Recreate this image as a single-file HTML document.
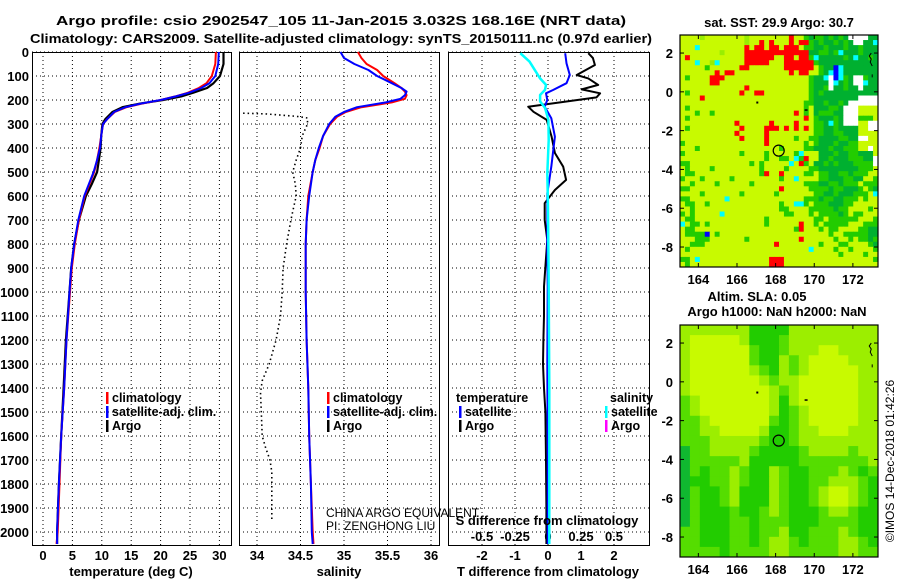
<!DOCTYPE html>
<html><head><meta charset="utf-8"><style>
html,body{margin:0;padding:0;background:#fff;}
svg{display:block;font-family:"Liberation Sans",Arial,sans-serif;}
.b{font-weight:bold;font-size:13px;fill:#000;}
.lg{font-weight:bold;font-size:12.5px;fill:#000;}
.n{font-size:12px;fill:#000;}
</style></head><body>
<svg id="fig" width="900" height="580" viewBox="0 0 900 580" xmlns="http://www.w3.org/2000/svg">
<rect x="0" y="0" width="900" height="580" fill="#fff"/>
<text class="b" x="341" y="25" text-anchor="middle" textLength="570" lengthAdjust="spacingAndGlyphs">Argo profile: csio 2902547_105 11-Jan-2015 3.032S 168.16E (NRT data)</text>
<text class="b" x="341" y="43" text-anchor="middle" textLength="622" lengthAdjust="spacingAndGlyphs">Climatology: CARS2009. Satellite-adjusted climatology: synTS_20150111.nc (0.97d earlier)</text>
<g id="p1"></g>
<g id="p2"></g>
<g id="p3"></g>
<g id="m1"></g>
<g id="m2"></g>
<text class="b" x="131" y="576" text-anchor="middle">temperature (deg C)</text>
<text class="b" x="339" y="576" text-anchor="middle">salinity</text>
<text class="b" x="548" y="576" text-anchor="middle">T difference from climatology</text>
<text class="b" x="547" y="525" text-anchor="middle">S difference from climatology</text>
<text class="n" x="326" y="517">CHINA ARGO EQUIVALENT</text>
<text class="n" x="326" y="530">PI: ZENGHONG LIU</text>
<text class="b" x="779" y="27" text-anchor="middle">sat. SST: 29.9 Argo: 30.7</text>
<text class="b" x="757" y="301" text-anchor="middle">Altim. SLA: 0.05</text>
<text class="b" x="777" y="316" text-anchor="middle">Argo h1000: NaN h2000: NaN</text>
<text class="n" font-size="12.5" transform="translate(894,461) rotate(-90)" text-anchor="middle">©IMOS 14-Dec-2018 01:42:26</text>
</svg>
<script>
const depthTicks=[0,100,200,300,400,500,600,700,800,900,1000,1100,1200,1300,1400,1500,1600,1700,1800,1900,2000];
const tempTicks=[0,5,10,15,20,25,30];
const salTicks=[34,34.5,35,35.5,36];
const salTickLabels=["34","34.5","35","35.5","36"];
const tdTicks=[-2,-1,0,1,2];
const sdTicks=[-0.5,-0.25,0,0.25,0.5];
const sdTickLabels=["-0.5","-0.25","0","0.25","0.5"];

const tempDepth=[0,50,100,130,150,170,185,200,215,230,250,280,300,350,400,450,500,550,600,700,800,900,1000,1200,1400,1600,1800,2000,2050];
const tempClim=[29.4,29.3,28.7,27.8,26.5,24.6,22.5,20,16.8,14.2,12.2,10.9,10.2,9.9,9.6,9.2,8.7,7.9,7.1,6.1,5.4,4.9,4.6,4.0,3.6,3.1,2.8,2.5,2.3];
const tempSat=[29.9,29.8,29.3,28.3,26.9,24.8,22.6,20,16.6,14.0,12.1,10.9,10.2,9.9,9.7,9.2,8.6,7.8,7.0,6.0,5.3,4.8,4.5,4.0,3.6,3.1,2.7,2.4,2.4];
const tempArgo=[30.7,30.7,30.1,29.0,27.9,25.5,23.5,20.4,16.5,13.5,11.8,10.6,10.1,9.9,9.8,9.5,9.2,8.3,7.3,6.1,5.3,4.8,4.5,3.9,3.5,3.1,2.7,2.4,2.4];

const salDepth=[0,25,50,75,100,130,150,165,180,195,210,230,250,270,300,350,400,450,500,600,700,800,1000,1200,1400,1600,1800,2000,2050];
const salClim=[35.16,35.2,35.26,35.38,35.45,35.58,35.66,35.7,35.72,35.7,35.55,35.2,35.02,34.92,34.84,34.76,34.72,34.67,34.64,34.59,34.57,34.56,34.56,34.57,34.59,34.6,34.62,34.64,34.65];
const salSat=[34.96,35.0,35.12,35.28,35.38,35.55,35.66,35.72,35.7,35.65,35.48,35.15,35.0,34.9,34.83,34.76,34.71,34.67,34.64,34.6,34.57,34.56,34.56,34.57,34.59,34.6,34.62,34.63,34.64];
const argoSalDepth=[255,258,268,275,300,350,400,450,500,550,600,650,700,800,900,1000,1100,1200,1300,1370,1420,1500,1600,1650,1700,1750,1850,1950];
const argoSal=[33.84,34.1,34.45,34.58,34.58,34.52,34.5,34.45,34.41,34.44,34.45,34.42,34.39,34.34,34.3,34.29,34.27,34.22,34.14,34.06,34.04,34.05,34.06,34.1,34.15,34.17,34.17,34.17];

const tdArgoDepth=[5,25,54,96,110,137,156,172,189,228,249,283,353,421,478,533,575,630,700,783,894,978,1100,1200,1300,1400,1500,1700,1900,2050];
const tdArgo=[1.22,1.36,1.42,0.87,1.22,1.52,1.02,1.58,1.47,-0.60,-0.44,-0.04,0.11,0.21,0.46,0.55,0.21,-0.10,-0.10,-0.02,-0.08,-0.12,-0.12,-0.14,-0.15,-0.12,-0.08,-0.06,-0.05,-0.05];
const tdSatDepth=[5,47,96,130,158,172,200,228,276,353,408,478,589,811,978,1300,1700,2050];
const tdSat=[0.52,0.56,0.66,0.56,0.16,-0.06,-0.02,-0.10,0.10,0.21,0.16,0.10,-0.02,-0.02,-0.01,-0.02,-0.01,-0.01];
const sdSatDepth=[5,40,110,137,158,179,206,233,283,367,506,644,978,1400,2050];
const sdSat=[-0.21,-0.14,-0.06,-0.015,-0.023,-0.06,-0.06,-0.023,0.003,0.005,-0.005,0.0,0.005,0.01,0.01];

const sstRows=[
"YYYYLYYYYYYYYLYYYYYYYYRYYGDGGDGDGDWWWWDD",
"YYYYYYYYYYYYYLYYRYRYYYRYRRGDGDDGDGDWWDDC",
"YYYCYYYYYYYYYRYRRYRRYRRRYGGDDGDDDGDDGDDD",
"YYYYYYYYLYYYYRRRRRRRRRRRRRDDGGDGCDDDGDDD",
"YRYYYYYYYYYYYRRRRRRYYRRYRRGCDDDDDGDCDDGD",
"YYYCYYLCYYYYYRRRRRYYYRRRRRRGDDDDDDDDDDDD",
"YYYYYGYYYYYYRRYYYYYYYRRRRRRYGDDBCDDDDDDD",
"YYYYYYYRYRRYYYYYYYYYYYRYRRYYGDCBCDDDDDDD",
"YGYYYYRRRYYYYYYYYYYYYYYYYYGDDCWBCGDWWGDD",
"YYYYYYRRYYYYYYYYYYYYYYYYYYGDDDWCDGDWWCDD",
"YYYYYYYYYYYYYRYYYYYYYYYYYYGDDGWDDGDDWDDD",
"YGYYYYYYYYYYRYYRRYYYYYYYYYGDGDDDDDDDDDDD",
"YYYYRYYYYYYYYYYYYYYYYYYYYYGDDDDDDDDDWWWW",
"YYYYYYYYYYYYYYYYYYYYYYYYYGGDDGDDGDWWWWWW",
"YGYYYYYYYYYYYYYYYYYYYYYYYGYDDDGGDWWWYYYY",
"YYYGYYGYYYYYYYYYYYYYYYYRYGYDGGGDDWWWYYYY",
"YGYYYYYYYYYYYYYYYYYYYYYYYRYGDDDGDWWWGGGY",
"YYYYYYYYYYYRYYYYYYRYYYYRYYYGGDCGDWWWYYWW",
"YGYYYYYYYYYYRYYYYRRRYRYRYRYGGDDGDDDDYYWW",
"YYYYYYYYYYYRYYYYYRYYYYYYYYYGGDDGGDDDYYYY",
"YYYYYYYYYYYYRYYYYRYYYYYGYYGGDDDDGGDDWWYY",
"GYYYYYYYYYYYYYYYYRYYYYYYYGYGDDDGDDGGYYYY",
"YYYGYYYYYYYYYYYYYYYYGYYYYGGDDDGDDGGGYYWY",
"GYYYYYYYYYYYGYYYYGYYYYYGCYYYDDDGDDGGDDDY",
"YYYYYYYYYYYYYYYYYGYYGGYCGRYYDDGDDDGGGDDW",
"GGYYYYYYYYYYYYGYGYYYYYCYRGYDDGDGDDDGGGGW",
"YGYYYYGYYYYYYYYYGYYYYGYYYYGGDDDDDDDDGGGY",
"YGGYYYYYYYYYYYYYGRYYRYYYYGGYGGDDGGDGGGYY",
"GYYYGYYYYYGYYYYYYYYYGYYCYYYYGGDDDGGDDYYG",
"YYGYYYYGYYYYYYGYYYYYYYYYYGGGDDGGDGGGYGGG",
"GGYYYYYYYYYYYYYYYYYYRYYYYYGGGGDGGDDDGYGD",
"YYYYGYYYYYYYGYYYYYYGYYYYYYYGGDDGDDDGGGYC",
"GGYYYYYYYCYYYYYYYYYYYYYYYGGGDGGDDGGGYGYY",
"YGGYYGYYYYYYYYYYYYYYGYYCCGYGGGDDDGGYYYYY",
"YYGYYYYYYYYYYYYYYYYYGGYYYYGGGGGDGGYYYYGY",
"GYGYYYYYCYYYYYYYYYYYYGGYYYGYGGGGDGYGGYYY",
"YGGYYYYYYYYYYYYYYGYYYYYYYYYGGYGGGGGGYYYG",
"CYGGYGYYYYYYYYYYYGYYYYYYRYYGYGGGGGYYYGGG",
"YGGYYYYYYYYYYYYYYYYYYYYGRYYYGYGGYYYYGGDD",
"YGGGGBYGYYYYYYYYYYYYYYYYYYYYYYGYYGGGGGDD",
"YYYGGGYYYYYYYGYYYYYYYYYYRYYYYYYGYYGYGGDG",
"YYGGGYYYYYYYYYYYYYYRYYYYYYYYGYYYGGYYYYGD",
"YGYYYYYYYYYYYYYYYYYYYYYYYYCYYYYGYYGYYYYG",
"YYYYYYYYYYYYYYYYYYYYYYYYYYYYYYYYGYYYYGYY",
"GGYCYYYYYYYYYYYYYYRRRYYYYYYYYYYYYYYYYYYG",
"YGYYYYYYYYYYYYYYYYRRRYYYYYYYYYYYYYYYYYYY"];
const slaRows=[
"LLLLLLLDDDDLLLLLLLLL",
"LYYYYYLDDDGLLLLLLLLL",
"LYYYYYYGDDGLLLYYLLLL",
"LYYYYYYGDDLGLYYYYLLL",
"LYYYYYYLGDLGLYYYYYLL",
"LYYYYYYYLGLLYYYYYYLL",
"LYYYYYYYYLGLYYYYYYLL",
"GLYYYYYYYLDLYYYYYYLL",
"GLYYYYYYYLDGLYYYYYLL",
"GGLYYYYYYGDGLYYYYYLL",
"GGLLYYYYLDDGLLYYYLLL",
"GGGLLLLLGDDGLLLLLLLL",
"EGGLLLLGDDDDGLLLLGLL",
"EGGGGGLDDDDDGGGGGGGL",
"EGDGGLGDDLGDDGGGLGDG",
"EDDGGLGDDLGDDGGLLLGD",
"EGDDGLDDDLGDDGLYYLGD",
"EGDDGLDDDLGDDGLYYLGD",
"EGDDDGDDGLGDDDGLLGDD",
"EGDDDGGDGGGDDDGGGGDD",
"GGDDDGGDGGLDDGGGLGDD",
"GGDDDGGDGLLGDGGGLLGD",
"GGGGDGGGGLLGGGGGLLGG"];
const mapLonTicks=[164,166,168,170,172];
const mapLatTicks=[2,0,-2,-4,-6,-8];
const floatLon=168.16, floatLat=-3.032;

const NS="http://www.w3.org/2000/svg";
function mk(tag,attrs,parent){const e=document.createElementNS(NS,tag);for(const k in attrs)e.setAttribute(k,attrs[k]);parent.appendChild(e);return e;}

// depth axis
const yTop=52,yScale=0.24;
function yD(d){return yTop+d*yScale;}
const plotBottom=545;

function panel(g,left,right,xFn,ticks,showDepthLabels){
  for(const d of depthTicks){
    const l=mk('line',{x1:left,x2:right,y1:yD(d),y2:yD(d),stroke:'#000','stroke-width':1,'stroke-dasharray':'1 3'},g);
    
    
    if(showDepthLabels){
      const t=mk('text',{x:29,y:yD(d)+5,'text-anchor':'end',class:'b'},g);
      t.textContent=String(d);
      
      
    }
  }
  for(const v of ticks){
    const x=xFn(v);
    const l=mk('line',{x1:x,x2:x,y1:yTop,y2:plotBottom,stroke:'#000','stroke-width':1,'stroke-dasharray':'1 3'},g);
    
    
  }
  const f=mk('rect',{x:left+0.5,y:yTop+0.5,width:right-left,height:plotBottom-yTop,fill:'none',stroke:'#000','stroke-width':1},g);
  
  
}
function tickLabels(g,ticks,labels,xFn,y){
  ticks.forEach((v,i)=>{
    const t=mk('text',{x:xFn(v),y:y,'text-anchor':'middle',class:'b'},g);
    t.textContent=labels?labels[i]:String(v);
    
    
  });
}
function line(g,depths,vals,xFn,color,w,name,dash){
  const pts=depths.map((d,i)=>xFn(vals[i]).toFixed(1)+','+yD(d).toFixed(1)).join(' ');
  const a={points:pts,fill:'none',stroke:color,'stroke-width':w,'stroke-linejoin':'round'};
  if(dash)a['stroke-dasharray']=dash;
  const p=mk('polyline',a,g);
  
  
}
function legend(g,x,y,color,label){
  const r=mk('rect',{x:x,y:y-10,width:2.5,height:12,fill:color},g);
  
  
  const t=mk('text',{x:x+6,y:y,class:'lg'},g);
  t.textContent=label;
  
  
}

// Panel 1: temperature
const p1=document.getElementById('p1');
const xT=v=>43+v*5.88;
panel(p1,32,231,xT,tempTicks,true);
tickLabels(p1,tempTicks,null,xT,560);
line(p1,tempDepth,tempArgo,xT,'#000',2.2,'argo-temperature-line');
line(p1,tempDepth,tempClim,xT,'#f00',2,'climatology-temperature-line');
line(p1,tempDepth,tempSat,xT,'#00f',2,'satellite-temperature-line');
legend(p1,106,402,'#f00','climatology');
legend(p1,106,416,'#00f','satellite-adj. clim.');
legend(p1,106,430,'#000','Argo');

// Panel 2: salinity
const p2=document.getElementById('p2');
const xS=v=>257+(v-34)*87;
panel(p2,239,439,xS,salTicks,false);
tickLabels(p2,salTicks,salTickLabels,xS,560);
line(p2,argoSalDepth,argoSal,xS,'#000',1.6,'argo-salinity-dotted-line','1.5 3');
line(p2,salDepth,salClim,xS,'#f00',2,'climatology-salinity-line');
line(p2,salDepth,salSat,xS,'#00f',2,'satellite-salinity-line');
legend(p2,327,402,'#f00','climatology');
legend(p2,327,416,'#00f','satellite-adj. clim.');
legend(p2,327,430,'#000','Argo');

// Panel 3: differences
const p3=document.getElementById('p3');
const xTd=v=>548+v*33;
const xSd=v=>548+v*132;
panel(p3,448,649,xTd,tdTicks,false);
tickLabels(p3,tdTicks,null,xTd,560);
tickLabels(p3,sdTicks,sdTickLabels,xSd,541);
line(p3,tdArgoDepth,tdArgo,xTd,'#000',2,'argo-t-difference-line');
line(p3,tdSatDepth,tdSat,xTd,'#00f',2,'satellite-t-difference-line');
line(p3,sdSatDepth,sdSat,xSd,'#0ff',2.5,'satellite-s-difference-line');
{const t=mk('text',{x:456,y:402,class:'lg'},p3);t.textContent='temperature';

}
{const t=mk('text',{x:610,y:402,class:'lg'},p3);t.textContent='salinity';

}
legend(p3,459,416,'#00f','satellite');
legend(p3,459,430,'#000','Argo');
legend(p3,605,416,'#0ff','satellite');
legend(p3,605,430,'#f0f','Argo');

// Maps
const sstColors={Y:'#c8fa00',L:'#99ee00',G:'#22cc00',D:'#00b030',R:'#ff0000',C:'#00ffff',B:'#0000ff',W:'#ffffff'};
const slaColors={Y:'#c8fa00',L:'#9cee00',G:'#55dd00',D:'#22cc00',E:'#10b830'};
function drawMap(g,left,right,top,bottom,rows,colors,latTop,latBot,lonL,lonR){
  const nr=rows.length,nc=rows[0].length;
  const cw=(right-left)/nc,ch=(bottom-top)/nr;
  rows.forEach((row,r)=>{
    for(let c=0;c<nc;c++){
      const cell=mk('rect',{x:(left+c*cw).toFixed(2),y:(top+r*ch).toFixed(2),width:(cw+0.4).toFixed(2),height:(ch+0.4).toFixed(2),fill:colors[row[c]]},g);
      
      
    }
  });
  const lonX=v=>left+(v-lonL)/(lonR-lonL)*(right-left);
  const latY=v=>top+(latTop-v)/(latTop-latBot)*(bottom-top);
  for(const lo of mapLonTicks){
    const x=lonX(lo);
    mk('line',{x1:x,x2:x,y1:top,y2:top+4,stroke:'#000'},g);
    mk('line',{x1:x,x2:x,y1:bottom,y2:bottom-4,stroke:'#000'},g);
    const t=mk('text',{x:x,y:bottom+17,'text-anchor':'middle',class:'b'},g);
    t.textContent=String(lo);
    
    
  }
  for(const la of mapLatTicks){
    const y=latY(la);
    mk('line',{x1:left,x2:left+4,y1:y,y2:y,stroke:'#000'},g);
    mk('line',{x1:right,x2:right-4,y1:y,y2:y,stroke:'#000'},g);
    const t=mk('text',{x:left-7,y:y+5,'text-anchor':'end',class:'b'},g);
    t.textContent=String(la);
    
    
  }
  const f=mk('rect',{x:left,y:top,width:right-left,height:bottom-top,fill:'none',stroke:'#000','stroke-width':1.2},g);
  
  
  const circ=mk('circle',{cx:lonX(floatLon),cy:latY(floatLat),r:5.5,fill:'none',stroke:'#000','stroke-width':1.2},g);
  
  
  const coast=mk('path',{d:`M${lonX(172.95)} ${latY(2.0)} l-2 3 l2 3 l-1 3 l2 4 M${lonX(173.0)} ${latY(0.9)} l0 3`,fill:'none',stroke:'#000','stroke-width':1},g);
  
  
  const d1=mk('rect',{x:lonX(167),y:latY(-0.5),width:2,height:2,fill:'#000'},g);
  
  
  const d2=mk('rect',{x:lonX(169.5),y:latY(-0.9),width:3,height:1.5,fill:'#000'},g);
  
  
}
drawMap(document.getElementById('m1'),680,878,35,267,sstRows,sstColors,2.93,-9.03,163.05,173.3);
drawMap(document.getElementById('m2'),680,878,325,557,slaRows,slaColors,2.93,-9.03,163.05,173.3);
</script>
</body></html>
